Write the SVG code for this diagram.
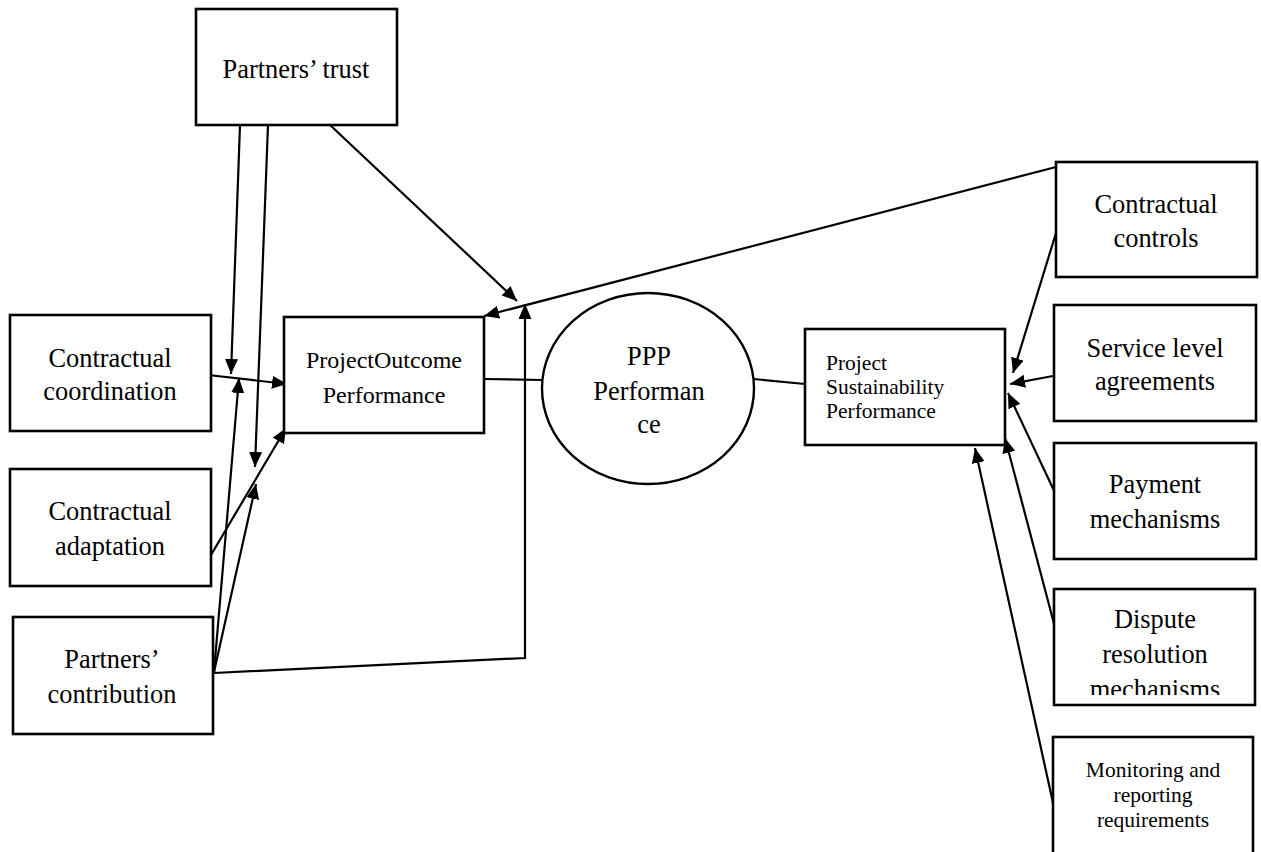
<svg xmlns="http://www.w3.org/2000/svg" width="1261" height="852" viewBox="0 0 1261 852">
<style>
.box{fill:#fff;stroke:#000;stroke-width:2.6}
.t{font-family:"Liberation Serif","Times New Roman",serif;fill:#000;font-size:26.4px;text-anchor:middle}
.s{font-size:24px}
.sm{font-size:21.5px}
.ln{fill:none;stroke:#000;stroke-width:2.2}
</style>
<defs>
<marker id="ah" markerUnits="userSpaceOnUse" markerWidth="16" markerHeight="14" refX="15" refY="6.5" orient="auto">
<path d="M0,0 L15,6.5 L0,13 z" fill="#000"/>
</marker>
<clipPath id="dclip"><rect x="1054" y="589" width="201" height="106"/></clipPath>
</defs>
<rect width="1261" height="852" fill="#fff"/>

<g id="connectors">
<line class="ln" x1="240" y1="125" x2="231" y2="374" marker-end="url(#ah)"/>
<line class="ln" x1="268" y1="125" x2="255" y2="467" marker-end="url(#ah)"/>
<line class="ln" x1="330" y1="125" x2="517" y2="301" marker-end="url(#ah)"/>
<line class="ln" x1="1056" y1="167" x2="484" y2="316" marker-end="url(#ah)"/>
<line class="ln" x1="208" y1="375" x2="287" y2="384" marker-end="url(#ah)"/>
<line class="ln" x1="211" y1="555" x2="286" y2="428" marker-end="url(#ah)"/>
<line class="ln" x1="214" y1="672" x2="239" y2="378" marker-end="url(#ah)"/>
<line class="ln" x1="214" y1="672" x2="256" y2="484" marker-end="url(#ah)"/>
<polyline class="ln" points="214,673 525,658 525,304" marker-end="url(#ah)"/>
<line class="ln" x1="484" y1="379" x2="542" y2="380"/>
<line class="ln" x1="754" y1="379" x2="805" y2="384"/>
<line class="ln" x1="1056" y1="233" x2="1013" y2="373" marker-end="url(#ah)"/>
<line class="ln" x1="1053" y1="376" x2="1010" y2="384" marker-end="url(#ah)"/>
<line class="ln" x1="1057" y1="497" x2="1008" y2="393" marker-end="url(#ah)"/>
<line class="ln" x1="1057" y1="635" x2="1005" y2="438" marker-end="url(#ah)"/>
<line class="ln" x1="1055" y1="812" x2="975" y2="448" marker-end="url(#ah)"/>
</g>

<g id="partners-trust">
<rect class="box" x="196" y="9" width="201" height="116"/>
<text class="t" x="296" y="78">Partners’ trust</text>
</g>

<g id="contractual-coordination">
<rect class="box" x="10" y="315" width="201" height="116"/>
<text class="t" x="110" y="367">Contractual</text>
<text class="t" x="110" y="400">coordination</text>
</g>

<g id="contractual-adaptation">
<rect class="box" x="10" y="469" width="201" height="117"/>
<text class="t" x="110" y="520">Contractual</text>
<text class="t" x="110" y="555">adaptation</text>
</g>

<g id="partners-contribution">
<rect class="box" x="13" y="617" width="200" height="117"/>
<text class="t" x="112" y="668">Partners’</text>
<text class="t" x="112" y="703">contribution</text>
</g>

<g id="project-outcome">
<rect class="box" x="284" y="317" width="200" height="116"/>
<text class="t s" x="384" y="368">ProjectOutcome</text>
<text class="t s" x="384" y="403">Performance</text>
</g>

<g id="ppp-performance">
<ellipse cx="648" cy="388.5" rx="106" ry="95.5" fill="#fff" stroke="#000" stroke-width="2.4"/>
<text class="t" x="649" y="365">PPP</text>
<text class="t" x="649" y="400">Performan</text>
<text class="t" x="649" y="433">ce</text>
</g>

<g id="project-sustainability">
<rect class="box" x="805" y="329" width="200" height="116"/>
<text class="t sm" x="826" y="370" text-anchor="start" style="text-anchor:start">Project</text>
<text class="t sm" x="826" y="394" style="text-anchor:start">Sustainability</text>
<text class="t sm" x="826" y="418" style="text-anchor:start">Performance</text>
</g>

<g id="contractual-controls">
<rect class="box" x="1056" y="162" width="201" height="115"/>
<text class="t" x="1156" y="213">Contractual</text>
<text class="t" x="1156" y="247">controls</text>
</g>

<g id="service-level-agreements">
<rect class="box" x="1054" y="305" width="202" height="116"/>
<text class="t" x="1155" y="357">Service level</text>
<text class="t" x="1155" y="390">agreements</text>
</g>

<g id="payment-mechanisms">
<rect class="box" x="1054" y="443" width="202" height="116"/>
<text class="t" x="1155" y="493">Payment</text>
<text class="t" x="1155" y="528">mechanisms</text>
</g>

<g id="dispute-resolution">
<rect class="box" x="1054" y="589" width="201" height="116"/>
<text class="t" x="1155" y="628">Dispute</text>
<text class="t" x="1155" y="663">resolution</text>
<text class="t" x="1155" y="697.5" clip-path="url(#dclip)">mechanisms</text>
</g>

<g id="monitoring-reporting">
<rect class="box" x="1053" y="737" width="200" height="130"/>
<text class="t sm" x="1153" y="777">Monitoring and</text>
<text class="t sm" x="1153" y="802">reporting</text>
<text class="t sm" x="1153" y="827">requirements</text>
</g>
</svg>
